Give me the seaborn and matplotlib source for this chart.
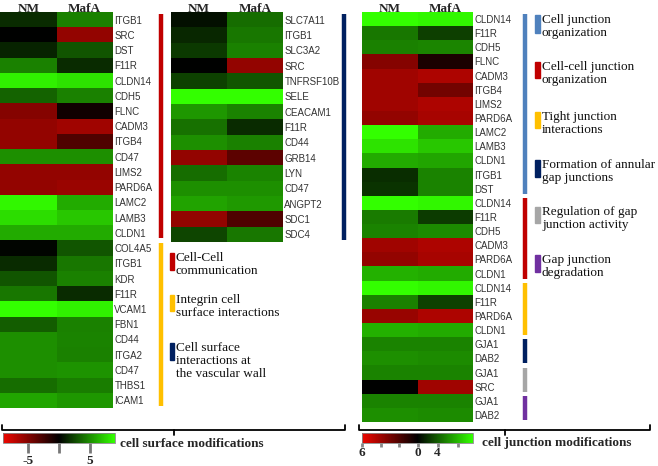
import numpy as np
import pandas as pd
import seaborn as sns
import matplotlib
matplotlib.use('Agg')
import matplotlib.pyplot as plt
from matplotlib.colors import LinearSegmentedColormap, Normalize, TwoSlopeNorm
from matplotlib.cm import ScalarMappable
from matplotlib.transforms import blended_transform_factory
from matplotlib.patches import Rectangle
from matplotlib.lines import Line2D

# ---------------- data ----------------
conditions = ['NM', 'MafA']

surface_genes = ['ITGB1', 'SRC', 'DST', 'F11R', 'CLDN14', 'CDH5', 'FLNC', 'CADM3', 'ITGB4',
                 'CD47', 'LIMS2', 'PARD6A', 'LAMC2', 'LAMB3', 'CLDN1',
                 'COL4A5', 'ITGB1', 'KDR', 'F11R', 'VCAM1', 'FBN1', 'CD44', 'ITGA2',
                 'CD47', 'THBS1', 'ICAM1']
surface_nm = [1.5, 0.0, 1.2, 4.5, 8.5, 3.5, -5.0, -5.5, -5.5, 5.0, -5.5, -5.5, 8.7, 7.8, 6.0,
              0.2, 1.5, 3.0, 4.2, 9.0, 3.3, 5.0, 5.0, 5.0, 3.8, 5.8]
surface_mafa = [4.5, -5.5, 3.0, 1.5, 8.0, 4.5, -0.6, -6.0, -3.0, 5.0, -5.5, -5.8, 6.0, 7.0, 6.0,
                3.0, 4.2, 4.5, 1.5, 8.5, 4.5, 4.6, 4.5, 5.2, 4.4, 5.3]
surface_group_sizes = [15, 11]
surface_group_colors = ['#c00000', '#ffc000']

vascular_genes = ['SLC7A11', 'ITGB1', 'SLC3A2', 'SRC', 'TNFRSF10B', 'SELE', 'CEACAM1', 'F11R',
                  'CD44', 'GRB14', 'LYN', 'CD47', 'ANGPT2', 'SDC1', 'SDC4']
vascular_nm = [0.5, 1.4, 2.0, 0.0, 2.3, 9.0, 5.3, 4.0, 5.0, -5.5, 3.8, 5.0, 5.7, -5.5, 2.4]
vascular_mafa = [3.8, 4.2, 4.5, -5.5, 3.0, 9.0, 4.6, 1.5, 4.5, -3.5, 4.6, 5.0, 5.4, -3.0, 4.2]
vascular_group_sizes = [15]
vascular_group_colors = ['#002060']

junction_genes = ['CLDN14', 'F11R', 'CDH5', 'FLNC', 'CADM3', 'ITGB4', 'LIMS2', 'PARD6A', 'LAMC2',
                  'LAMB3', 'CLDN1', 'ITGB1', 'DST',
                  'CLDN14', 'F11R', 'CDH5', 'CADM3', 'PARD6A', 'CLDN1',
                  'CLDN14', 'F11R', 'PARD6A', 'CLDN1',
                  'GJA1', 'DAB2', 'GJA1', 'SRC', 'GJA1', 'DAB2']
junction_nm = [9.0, 4.2, 4.5, -5.0, -6.0, -6.0, -6.0, -5.5, 9.0, 8.0, 6.0, 1.6, 1.8,
               9.0, 4.3, 4.6, -6.0, -5.5, 6.2,
               9.0, 4.5, -5.7, 6.2,
               4.6, 5.0, 4.6, 0.0, 4.6, 5.0]
junction_mafa = [8.7, 2.2, 4.7, -1.0, -6.5, -4.3, -6.5, -6.3, 6.0, 7.0, 5.8, 4.6, 4.6,
                 8.7, 2.1, 4.9, -6.5, -6.3, 6.0,
                 8.7, 2.3, -6.5, 6.0,
                 4.6, 4.9, 4.6, -6.0, 4.6, 4.9]
junction_group_sizes = [13, 6, 4, 2, 2, 2]
junction_group_colors = ['#4f81bd', '#c00000', '#ffc000', '#002060', '#a6a6a6', '#7030a0']

left_legend = ['Cell-Cell\ncommunication', 'Integrin cell\nsurface interactions',
               'Cell surface\ninteractions at\nthe vascular wall']
left_legend_colors = ['#c00000', '#ffc000', '#002060']
right_legend = ['Cell junction\norganization', 'Cell-cell junction\norganization',
                'Tight junction\ninteractions', 'Formation of annular\ngap junctions',
                'Regulation of gap\njunction activity', 'Gap junction\ndegradation']
right_legend_colors = ['#4f81bd', '#c00000', '#ffc000', '#002060', '#a6a6a6', '#7030a0']

surface_cbar_ticks = [-5, 0, 5]
surface_cbar_labels = ['-5', '', '5']
junction_cbar_ticks = [-6, -4, -2, 0, 4, 8]
junction_cbar_labels = ['6', '', '', '0', '4', '']

# ---------------- style ----------------
sns.set_style('white')
plt.rcParams['font.family'] = ['Liberation Sans', 'DejaVu Sans']
SERIF = ['Liberation Serif', 'DejaVu Serif']

cmap = LinearSegmentedColormap.from_list('rgk', ['#ee0600', '#000000', '#33ff00'])

W, H = 658, 466
fig = plt.figure(figsize=(W / 100, H / 100), dpi=100)


def px_axes(x0, y0, x1, y1):
    return fig.add_axes([x0 / W, 1 - y1 / H, (x1 - x0) / W, (y1 - y0) / H])


def draw_heat(ax, genes, nm, mafa, sizes, colors, bar_x):
    df = pd.DataFrame({'NM': nm, 'MafA': mafa}, index=range(len(genes)))[conditions]
    sns.heatmap(df, ax=ax, cmap=cmap, vmin=-9, vmax=9, cbar=False,
                xticklabels=conditions, yticklabels=genes, linewidths=0)
    ax.xaxis.tick_top()
    ax.tick_params(axis='x', top=False, bottom=False, labeltop=True, labelbottom=False,
                   pad=-2.2, length=0)
    for t in ax.get_xticklabels():
        t.set_fontfamily(SERIF)
        t.set_fontweight('bold')
        t.set_fontsize(9.5)
        t.set_rotation(0)
    ax.tick_params(axis='y', left=False, right=False, labelleft=False, labelright=True,
                   labelrotation=0, pad=1, length=0, labelsize=7, labelcolor='#333333')
    tr = blended_transform_factory(fig.transFigure, ax.transData)
    start = 0
    for n, c in zip(sizes, colors):
        fig.add_artist(Line2D([bar_x / W, bar_x / W], [start + 0.15, start + n - 0.15],
                              transform=tr, color=c, lw=3.2, solid_capstyle='butt'))
        start += n


ax1 = px_axes(0, 12, 113, 408)
draw_heat(ax1, surface_genes, surface_nm, surface_mafa, surface_group_sizes,
          surface_group_colors, 160.5)
ax2 = px_axes(171, 12, 283, 242)
draw_heat(ax2, vascular_genes, vascular_nm, vascular_mafa, vascular_group_sizes,
          vascular_group_colors, 343.5)
ax3 = px_axes(362, 12, 473, 422)
draw_heat(ax3, junction_genes, junction_nm, junction_mafa, junction_group_sizes,
          junction_group_colors, 525)


def legend(items, colors, tops, sq_x, txt_x, heights):
    for s, c, t, h in zip(items, colors, tops, heights):
        fig.add_artist(Rectangle((sq_x / W, 1 - (t + h) / H), 4.5 / W, h / H,
                                 transform=fig.transFigure, color=c))
        fig.text(txt_x / W, 1 - (t - 1) / H, s, va='top', ha='left', fontsize=9.5,
                 family=SERIF, linespacing=1.12, color='#111111')


legend(left_legend, left_legend_colors, [253, 295, 343], 169.5, 176, [17, 16, 17])
legend(right_legend, right_legend_colors, [15, 62, 112, 160, 207, 255], 535, 542,
       [18, 16, 16, 17, 16, 17])

# ---------------- colorbars ----------------
cax1 = px_axes(3, 433, 115, 443)
cb1 = fig.colorbar(ScalarMappable(norm=Normalize(-9, 9), cmap=cmap), cax=cax1,
                   orientation='horizontal')
cb1.set_ticks(surface_cbar_ticks)
cb1.set_ticklabels(surface_cbar_labels)
cb1.outline.set_linewidth(0.6)
cb1.outline.set_edgecolor('#888888')
cax1.tick_params(axis='x', length=7, width=2, color='#777777', pad=2, labelsize=9.5)
for t in cax1.get_xticklabels():
    t.set_fontfamily(SERIF)
    t.set_fontweight('bold')

cax2 = px_axes(362, 433, 473, 443)
cb2 = fig.colorbar(ScalarMappable(norm=TwoSlopeNorm(vcenter=0, vmin=-6, vmax=11), cmap=cmap),
                   cax=cax2, orientation='horizontal')
cb2.set_ticks(junction_cbar_ticks)
cb2.set_ticklabels(junction_cbar_labels)
cb2.outline.set_linewidth(0.6)
cb2.outline.set_edgecolor('#888888')
cax2.tick_params(axis='x', length=3, width=2, color='#888888', pad=0, labelsize=9.5)
for t in cax2.get_xticklabels():
    t.set_fontfamily(SERIF)
    t.set_fontweight('bold')

fig.text(120 / W, 1 - 444 / H, 'cell surface modifications', va='center', ha='left',
         fontsize=9.5, fontweight='bold', family=SERIF)
fig.text(482 / W, 1 - 443 / H, 'cell junction modifications', va='center', ha='left',
         fontsize=9.5, fontweight='bold', family=SERIF)

# ---------------- brackets ----------------
def bracket(x0, x1, y=430):
    xm = (x0 + x1) / 2
    fig.add_artist(Line2D([x0 / W, x0 / W, x1 / W, x1 / W],
                          [1 - (y - 5) / H, 1 - y / H, 1 - y / H, 1 - (y - 5) / H],
                          transform=fig.transFigure, color='black', lw=1.3))
    fig.add_artist(Line2D([xm / W, xm / W], [1 - y / H, 1 - (y + 5) / H],
                          transform=fig.transFigure, color='black', lw=1.3))


bracket(2, 345)
bracket(359, 650)

fig.savefig('out.png', dpi=100)
